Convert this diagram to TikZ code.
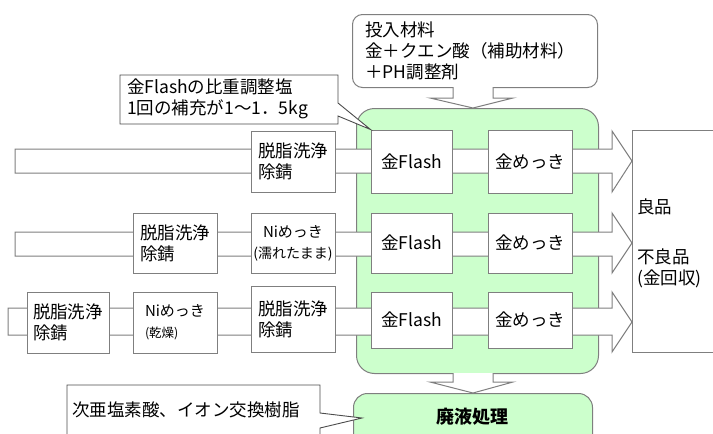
\documentclass[tikz,border=0pt]{standalone}
\usepackage{fontspec}
\setmainfont{Noto Sans CJK JP}
\definecolor{edgegray}{HTML}{7F7F7F}
\definecolor{plategreen}{HTML}{CCFFCC}
\begin{document}
\begin{tikzpicture}[x=1pt,y=-1pt,
  every node/.style={font=\fontsize{17.5}{21}\selectfont, inner sep=0pt},
  box/.style={draw=edgegray, fill=white, line width=1pt, align=left},
  band/.style={draw=edgegray, fill=white, line width=1pt, line join=miter},
  callout/.style={draw=black!70, fill=white, line width=0.9pt}
]
\useasboundingbox (0,0) rectangle (713,434);
\clip (0,0) rectangle (713,434);

% plating area
\node[draw=edgegray, fill=plategreen, line width=1pt, rounded corners=18pt,
  minimum width=242pt, minimum height=265pt, anchor=north west] (plate) at (356,108) {};
% waste treatment
\node[draw=edgegray, fill=plategreen, line width=1pt, rounded corners=14pt,
  minimum width=239pt, minimum height=70pt, anchor=north west] (waste) at (353,393) {};
\node[font=\fontsize{18}{21}\selectfont\bfseries] (wastetext) at (472,417) {廃液処理};

% input materials
\node[draw=edgegray, fill=white, line width=1pt, rounded corners=10pt,
  minimum width=245pt, minimum height=73pt, anchor=north west] (inp) at (352,14) {};
\node[anchor=west, align=left] (inptext) at (365,51) {投入材料\\金＋クエン酸（補助材料）\\＋PH調整剤};

% down block arrows
\draw[band] (453,87) -- (453,98) -- (430,98) -- (473,108) -- (513,98) -- (493,98) -- (493,87);
\draw[band] (453,373) -- (453,382) -- (430,382) -- (473,393) -- (513,382) -- (493,382) -- (493,373);

% process bands
\draw[band] (15,149) -- (612,149) -- (612,131) -- (632,161) -- (612,192) -- (612,173) -- (15,173) -- cycle;
\draw[band] (15,232) -- (612,232) -- (612,213) -- (632,243) -- (612,273) -- (612,256) -- (15,256) -- cycle;
\draw[band] (8,308) -- (612,308) -- (612,292) -- (632,322) -- (612,352) -- (612,335) -- (8,335) -- cycle;

% result box
\node[box, minimum width=95pt, minimum height=222pt, anchor=north west] (out) at (632,130) {};
\node[anchor=north west, align=left] (outtext) at (637,199) {良品\\[29pt]不良品\\(金回収)};

% row 1
\node[box, minimum width=84pt, minimum height=61pt] (d1) at (293,161.5) {脱脂洗浄\\除錆};
\node[box, minimum width=81pt, minimum height=63pt] (f1) at (411.5,161.5) {金Flash};
\node[box, minimum width=84pt, minimum height=63pt] (m1) at (530,161.5) {金めっき};

% row 2
\node[box, minimum width=84pt, minimum height=60pt] (d2) at (175,243) {脱脂洗浄\\除錆};
\node[box, minimum width=84pt, minimum height=60pt, align=center] (n2) at (293,243)
  {{\fontsize{15}{18}\selectfont Niめっき}\\{\fontsize{14}{16}\selectfont (濡れたまま)}};
\node[box, minimum width=81pt, minimum height=60pt] (f2) at (411.5,243) {金Flash};
\node[box, minimum width=84pt, minimum height=60pt] (m2) at (530,243) {金めっき};

% row 3
\node[box, minimum width=82pt, minimum height=61pt] (d3) at (68,322.5) {脱脂洗浄\\除錆};
\node[box, minimum width=84pt, minimum height=61pt] (n3) at (175,322.5)
  {{\fontsize{15}{18}\selectfont Niめっき}\\{\fontsize{12.5}{16}\selectfont (乾燥)}};
\node[box, minimum width=84pt, minimum height=66pt] (d4) at (293,319) {脱脂洗浄\\除錆};
\node[box, minimum width=81pt, minimum height=56pt] (f3) at (411.5,320) {金Flash};
\node[box, minimum width=84pt, minimum height=56pt] (m3) at (530,320) {金めっき};

% callout: specific gravity salt
\draw[callout] (120,75) -- (338,75) -- (338,103) -- (f1.north west) -- (338,116) -- (338,124) -- (120,124) -- cycle;
\node[anchor=west, align=left] (salt) at (127,99) {金Flashの比重調整塩\\1回の補充が1～1．5kg};

% callout: waste chemicals
\coordinate (wastetip) at (362,418);
\draw[callout] (67,445) -- (67,385) -- (320,385) -- (320,413) -- (wastetip) -- (320,428) -- (320,445);
\node[anchor=west] (chem) at (72,410) {次亜塩素酸、イオン交換樹脂};
\end{tikzpicture}
\end{document}
